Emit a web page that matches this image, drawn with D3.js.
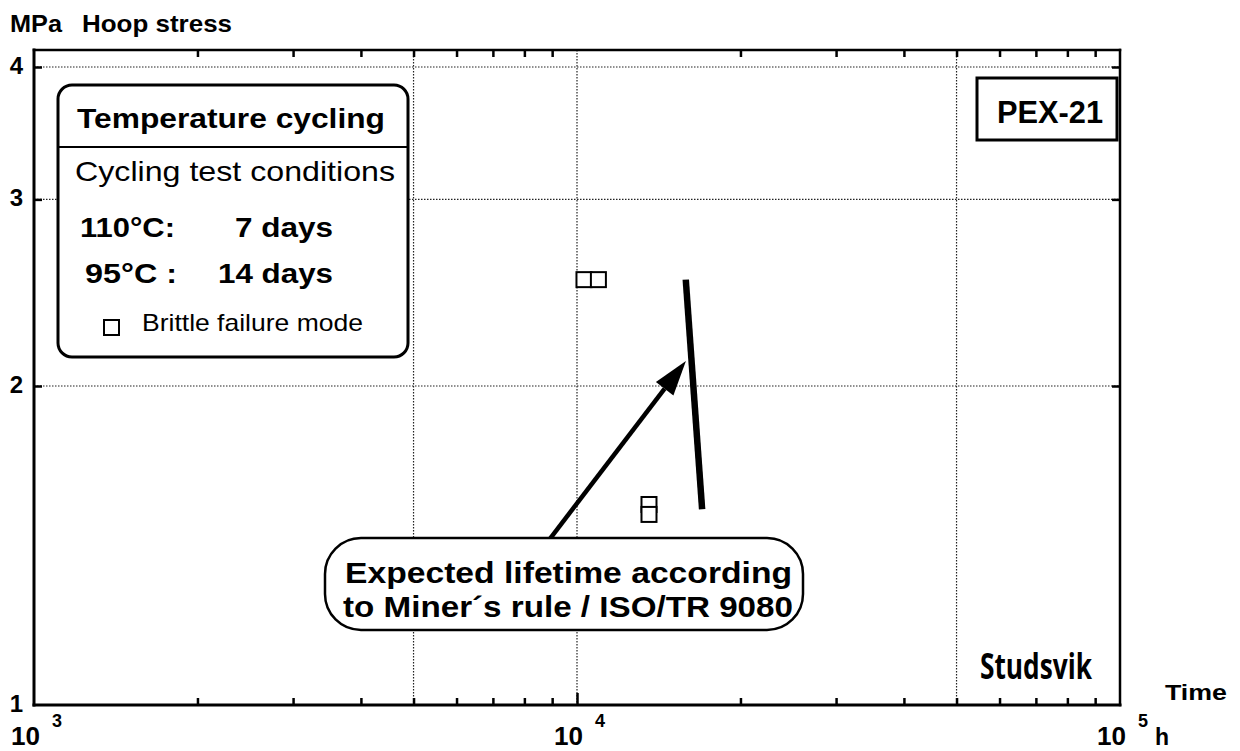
<!DOCTYPE html>
<html>
<head>
<meta charset="utf-8">
<script src="https://cdn.jsdelivr.net/npm/d3@7"></script>
<style>
  html, body { margin: 0; padding: 0; background: #fff; }
  svg { display: block; }
  text { font-family: "Liberation Sans", Arial, Helvetica, sans-serif; fill: #000; }
</style>
</head>
<body>
<svg id="chart" width="1240" height="751"></svg>
<script>
// ---- data ----
const X_DOMAIN = [1e3, 1e5];            // time, h
const Y_DOMAIN = [1, 4];                // hoop stress, MPa
const X_LABEL_EXPONENTS = [3, 4, 5];
const Y_TICKS = [1, 2, 3, 4];
const X_GRID = [5e3, 1e4, 5e4];
const Y_GRID = [2, 3, 4];
const X_MINOR = [2e3, 3e3, 4e3, 5e3, 6e3, 7e3, 8e3, 9e3, 2e4, 3e4, 4e4, 5e4, 6e4, 7e4, 8e4, 9e4];
const FAIL_TIME = [10300, 10950, 13570, 13570];
const FAIL_STRESS = [2.52, 2.52, 1.546, 1.513];
const MINER_TIME = [15860, 17000];
const MINER_STRESS = [2.52, 1.53];
const ARROW_TIME = [8850, 15870];
const ARROW_STRESS = [1.428, 2.112];

const svg = d3.select('#chart');
svg.append('rect').attr('width', 1240).attr('height', 751).attr('fill', '#fff');

const x = d3.scaleLog().domain(X_DOMAIN).range([34, 1120]);
const y = d3.scaleLog().domain(Y_DOMAIN).range([705, 67]);
const TOP = 50;

// gridlines
const grid = svg.append('g').attr('stroke', '#222').attr('stroke-width', 1.2).attr('stroke-dasharray', '1.5,1.5');
grid.selectAll('.gx').data(X_GRID).enter().append('line')
  .attr('x1', d => x(d)).attr('x2', d => x(d)).attr('y1', TOP).attr('y2', y(1));
grid.selectAll('.gy').data(Y_GRID).enter().append('line')
  .attr('y1', d => y(d)).attr('y2', d => y(d)).attr('x1', x(1e3)).attr('x2', x(1e5));

// ticks
function ticks(axis, tr) {
  const g = svg.append('g').attr('transform', tr).call(axis);
  g.select('.domain').remove();
  g.selectAll('.tick line').attr('stroke', '#000').attr('stroke-width', 2.5);
  g.selectAll('.tick text').remove();
  return g;
}
ticks(d3.axisBottom(x).tickValues(X_MINOR).tickSize(-7), `translate(0,${y(1)})`);
ticks(d3.axisBottom(x).tickValues([1e4]).tickSize(-12), `translate(0,${y(1)})`);
ticks(d3.axisTop(x).tickValues(X_MINOR).tickSize(-7), `translate(0,${TOP})`);
ticks(d3.axisLeft(y).tickValues(Y_GRID).tickSize(-8), `translate(${x(1e3)},0)`);
ticks(d3.axisRight(y).tickValues(Y_GRID).tickSize(-8), `translate(${x(1e5)},0)`);

// frame
const frame = svg.append('g').attr('stroke', '#000').attr('stroke-linecap', 'square');
frame.append('line').attr('x1', x(1e3)).attr('x2', x(1e3)).attr('y1', TOP).attr('y2', y(1)).attr('stroke-width', 3);
frame.append('line').attr('x1', x(1e3)).attr('x2', x(1e5)).attr('y1', y(1)).attr('y2', y(1)).attr('stroke-width', 3);
frame.append('line').attr('x1', x(1e3)).attr('x2', x(1e5)).attr('y1', TOP).attr('y2', TOP).attr('stroke-width', 2.5);
frame.append('line').attr('x1', x(1e5)).attr('x2', x(1e5)).attr('y1', TOP).attr('y2', y(1)).attr('stroke-width', 2.5);

function label(txt, px, py, size, weight, len, anchor, family) {
  const t = svg.append('text').attr('x', px).attr('y', py)
    .attr('font-size', size).attr('font-weight', weight || 'normal')
    .attr('text-anchor', anchor || 'start').text(txt);
  if (len) t.attr('textLength', len).attr('lengthAdjust', 'spacingAndGlyphs');
  if (family) t.style('font-family', family);
  return t;
}

// axis labels
label('MPa', 10, 32, 24, 'bold', 52);
label('Hoop stress', 82, 32, 24, 'bold', 150);
Y_TICKS.forEach(v => label(String(v), 23, y(v) + 7, 24, 'bold', null, 'end'));
X_LABEL_EXPONENTS.forEach(e => {
  const px = x(Math.pow(10, e));
  label('10', px + 6, 745, 25, 'bold', 29, 'end');
  label(String(e), px + 18, 727, 18, 'bold');
});
label('Time', 1165, 700, 22, 'bold', 62);
label('h', 1155, 745, 23, 'bold');

// legend box
svg.append('rect').attr('x', 58).attr('y', 85).attr('width', 350).attr('height', 272).attr('rx', 14)
  .attr('fill', '#fff').attr('stroke', '#000').attr('stroke-width', 3);
svg.append('line').attr('x1', 58).attr('x2', 408).attr('y1', 147).attr('y2', 147)
  .attr('stroke', '#000').attr('stroke-width', 2);
label('Temperature cycling', 77, 128, 27, 'bold', 308);
label('Cycling test conditions', 75, 181, 28, 'normal', 320);
label('110°C:', 80, 237, 27, 'bold', 95);
label('7 days', 235, 237, 27, 'bold', 98);
label('95°C :', 85, 283, 27, 'bold', 92);
label('14 days', 218, 283, 27, 'bold', 115);
label('Brittle failure mode', 142, 331, 24, 'normal', 221);
const SQ = 15;
svg.append('rect').attr('x', 104).attr('y', 320).attr('width', SQ).attr('height', SQ)
  .attr('fill', '#fff').attr('stroke', '#000').attr('stroke-width', 2);

// PEX-21 box
svg.append('rect').attr('x', 977).attr('y', 78).attr('width', 140).attr('height', 62)
  .attr('fill', '#fff').attr('stroke', '#000').attr('stroke-width', 3);
label('PEX-21', 997, 123, 31, 'bold', 106);

// Studsvik
label('Studsvik', 980, 679, 36, 'bold', 112, 'start', '"Open Sans", "DejaVu Sans Condensed", sans-serif');

// Miner's rule line
svg.append('line')
  .attr('x1', x(MINER_TIME[0])).attr('y1', y(MINER_STRESS[0]))
  .attr('x2', x(MINER_TIME[1])).attr('y2', y(MINER_STRESS[1]))
  .attr('stroke', '#000').attr('stroke-width', 6.5);

// arrow
const ax0 = x(ARROW_TIME[0]), ay0 = y(ARROW_STRESS[0]);
const ax1 = x(ARROW_TIME[1]), ay1 = y(ARROW_STRESS[1]);
const ang = Math.atan2(ay1 - ay0, ax1 - ax0);
const HL = 35, HW = 11;
const bx = ax1 - HL * Math.cos(ang), by = ay1 - HL * Math.sin(ang);
svg.append('line').attr('x1', ax0).attr('y1', ay0).attr('x2', bx).attr('y2', by)
  .attr('stroke', '#000').attr('stroke-width', 4.5);
svg.append('polygon').attr('fill', '#000').attr('points', [
  [ax1, ay1],
  [bx + HW * Math.sin(ang), by - HW * Math.cos(ang)],
  [bx - HW * Math.sin(ang), by + HW * Math.cos(ang)]
].map(p => p.join(',')).join(' '));

// callout
svg.append('rect').attr('x', 325).attr('y', 538).attr('width', 478).attr('height', 92).attr('rx', 36)
  .attr('fill', '#fff').attr('stroke', '#000').attr('stroke-width', 2.5);
label('Expected lifetime according', 345, 583, 29, 'bold', 447);
label('to Miner´s rule / ISO/TR 9080', 343, 617, 29, 'bold', 450);

// failure points
svg.append('g').selectAll('rect').data(FAIL_TIME).enter().append('rect')
  .attr('x', (d, i) => x(d) - SQ / 2)
  .attr('y', (d, i) => y(FAIL_STRESS[i]) - SQ / 2)
  .attr('width', SQ).attr('height', SQ)
  .attr('fill', '#fff').attr('stroke', '#000').attr('stroke-width', 2);
</script>
</body>
</html>
